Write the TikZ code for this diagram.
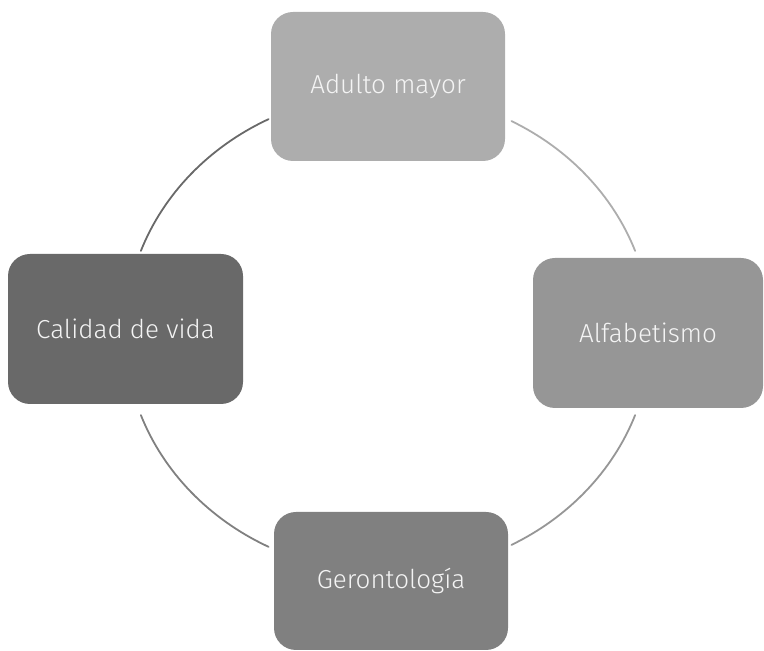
\documentclass[tikz,border=0pt]{standalone}
\usepackage{fontspec}
\setmainfont{Fira Sans Light}
\usepackage{xcolor}
\usetikzlibrary{positioning}

\definecolor{grayA}{HTML}{ADADAD}
\definecolor{grayB}{HTML}{969696}
\definecolor{grayC}{HTML}{808080}
\definecolor{grayD}{HTML}{696969}
\definecolor{labeltext}{HTML}{F4F4F4}

\begin{document}
\begin{tikzpicture}[
    x=1pt, y=1pt,
    font=\fontsize{26}{30}\selectfont,
    topic/.style={rectangle, rounded corners=22pt, draw=none, text=labeltext,
        minimum width=234pt, minimum height=149pt, inner sep=0pt},
    cyclearc/.style={line width=1.8pt, line cap=round}
]

% Bounding box
\useasboundingbox (0,0) rectangle (764,651);

% Centre of the cycle
\coordinate (hub) at (388,318);

% Topics
\node[topic, fill=grayA] (adulto) at (388,564.5) {Adulto mayor};
\node[topic, fill=grayB, minimum width=230pt, minimum height=150pt] (alfa) at (648,318) {Alfabetismo};
\node[topic, fill=grayC, minimum height=138pt] (geronto) at (391,70) {Gerontología};
\node[topic, fill=grayD, minimum width=235pt, minimum height=150pt] (calidad) at (125.5,322) {Calidad de vida};

% Cycle arcs (clockwise)
\draw[cyclearc, grayA] (hub) ++(62:263 and 240) arc[start angle=62, end angle=20, x radius=263, y radius=240];
\draw[cyclearc, grayB] (hub) ++(-20:263 and 240) arc[start angle=-20, end angle=-62, x radius=263, y radius=240];
\draw[cyclearc, grayC] (hub) ++(-117:263 and 240) arc[start angle=-117, end angle=-160, x radius=263, y radius=240];
\draw[cyclearc, grayD] (hub) ++(160:263 and 240) arc[start angle=160, end angle=117, x radius=263, y radius=240];

\end{tikzpicture}
\end{document}
